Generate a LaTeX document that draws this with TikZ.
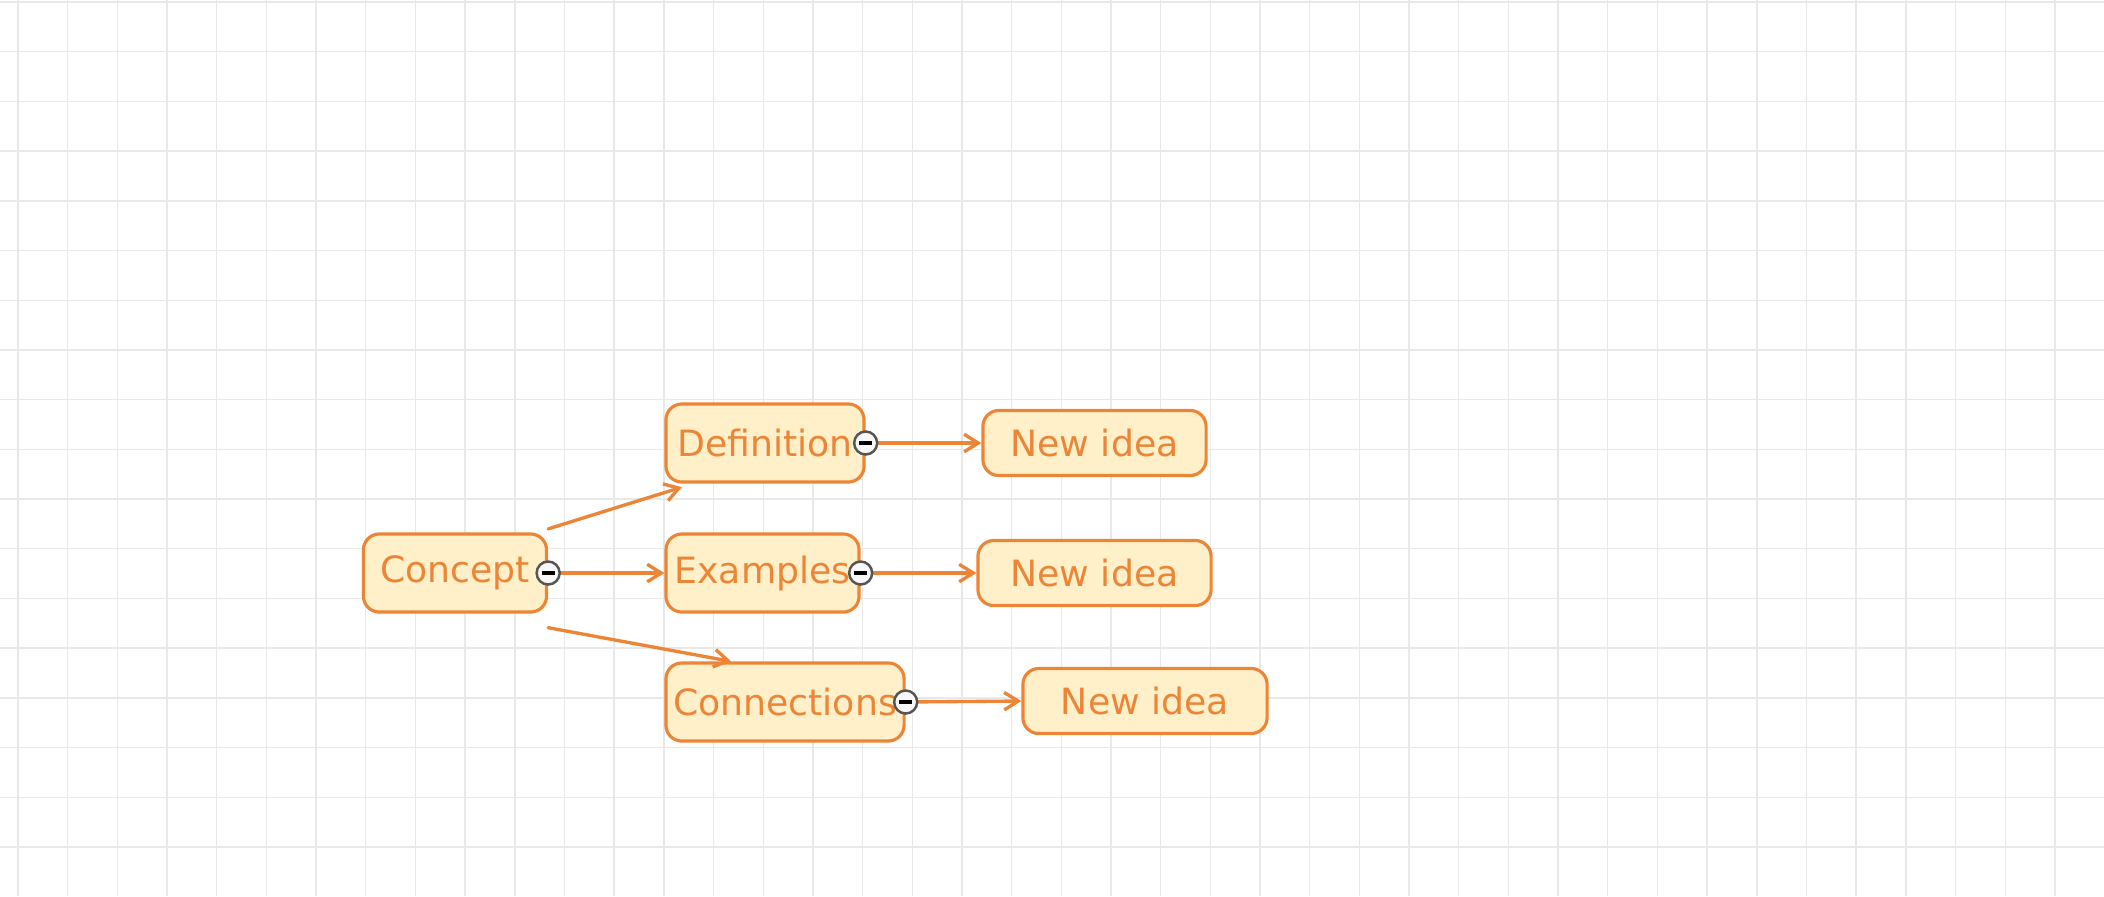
\documentclass[tikz,border=0pt]{standalone}
\usepackage{fontspec}
\setmainfont{DejaVu Sans}
\usetikzlibrary{arrows.meta}
\definecolor{cTinta}{HTML}{EC8535}
\definecolor{cRelleno}{HTML}{FFF0CA}
\definecolor{cRejilla}{HTML}{E9E9E9}
\definecolor{cBoton}{HTML}{555555}
\tikzset{
    x=0.01cm, y=-0.01cm,
    idea/.style={draw=cTinta, line width=0.9pt, rounded corners=4.5pt,
                 fill=cRelleno, text=cTinta, inner sep=0pt,
                 minimum height=0.78cm, font=\fontsize{10.3}{12}\selectfont},
    hoja/.style={idea, minimum height=0.65cm},
    rama/.style={-{Straight Barb[length=4pt, width=5pt]}, line width=0.95pt,
                 cTinta, line cap=round},
    boton/.style={circle, draw=cBoton, fill=gray!6, line width=0.7pt,
                  minimum size=0.23cm, inner sep=0pt,
                  path picture={\draw[black, line width=1.1pt]
                      ([xshift=-0.065cm]path picture bounding box.center) --
                      ([xshift=0.065cm]path picture bounding box.center);}},
    rejilla/.style={cRejilla, line width=0.4pt},
}
\begin{document}
\begin{tikzpicture}
    \useasboundingbox (0,0) rectangle (2104,896);
    \fill[white] (0,0) rectangle (2104,896);

    \foreach \i in {0,...,41} {
        \draw[rejilla] ({18+49.68*\i},0) -- ({18+49.68*\i},896);
    }
    \foreach \j in {0,...,17} {
        \draw[rejilla] (0,{2+49.7*\j}) -- (2104,{2+49.7*\j});
    }

    \node[idea, minimum width=1.83cm] (concepto) at (455,573) {Concept};

    \node[idea, minimum width=1.98cm] (defin) at (765,443) {Definition};
    \node[idea, minimum width=1.93cm] (ejemp) at (762.5,573) {Examples};
    \node[idea, minimum width=2.38cm] (conex) at (785,702) {Connections};

    \node[hoja, minimum width=2.23cm] (nueva1) at (1094.5,443) {New idea};
    \node[hoja, minimum width=2.33cm] (nueva2) at (1094.5,573) {New idea};
    \node[hoja, minimum width=2.44cm] (nueva3) at (1145,701) {New idea};

    \draw[rama] ([yshift=1]concepto.north east) -- ([xshift=5,yshift=-1]defin.south west);
    \draw[rama] (concepto.east) -- (ejemp.west);
    \draw[rama] ([yshift=-4]concepto.south east) -- ([xshift=19]conex.north west);

    \draw[rama] (defin.east) -- (nueva1.west);
    \draw[rama] (ejemp.east) -- (nueva2.west);
    \draw[rama] (conex.east) -- (nueva3.west);

    \node[boton] (bConcepto) at (concepto.east) {};
    \node[boton] (bDefin) at (defin.east) {};
    \node[boton] (bEjemp) at (ejemp.east) {};
    \node[boton] (bConex) at (conex.east) {};
\end{tikzpicture}
\end{document}
